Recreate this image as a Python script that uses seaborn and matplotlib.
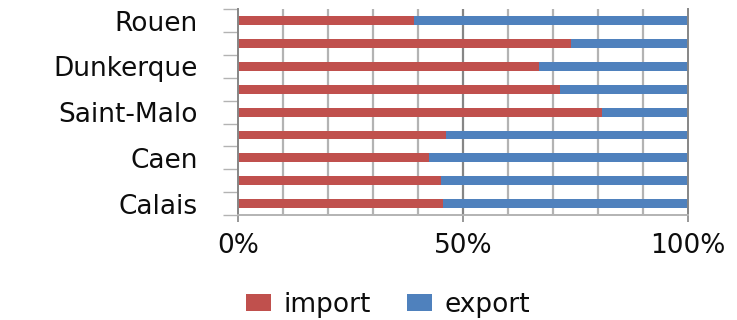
import numpy as np
import pandas as pd
import seaborn as sns
import matplotlib.pyplot as plt
from matplotlib.patches import Patch
from matplotlib.ticker import FixedLocator

# Shares of port traffic (percent), top to bottom
ports = ["Rouen", "", "Dunkerque", "", "Saint-Malo", "", "Caen", "", "Calais"]
import_share = [39.1, 74.0, 66.9, 71.5, 80.8, 46.2, 42.4, 45.1, 45.6]
export_share = [60.9, 26.0, 33.1, 28.5, 19.2, 53.8, 57.6, 54.9, 54.4]
x_ticks = [0, 50, 100]
x_tick_labels = ["0%", "50%", "100%"]
series_names = ["import", "export"]

RED = "#C0504D"
BLUE = "#4F81BD"
MAJOR_GREY = "#868686"
MINOR_GREY = "#B3B3B3"
TEXT = "#0D0D0D"

sns.set_theme(style="white")
plt.rcParams["font.family"] = ["DejaVu Sans"]

df = pd.DataFrame({
    "pos": np.arange(len(ports)),
    "import": import_share,
    "export": export_share,
})
df["total"] = df["import"] + df["export"]

fig = plt.figure(figsize=(7.37, 3.2), dpi=100)
ax = fig.add_axes([238 / 737, 1 - 215 / 320, 450 / 737, (215 - 9.3) / 320])

# stacked horizontal bars: full length in blue, import share drawn over it
sns.barplot(data=df, x="total", y="pos", orient="y", native_scale=True,
            width=0.39, color=BLUE, saturation=1, errorbar=None, ax=ax,
            linewidth=0)
sns.barplot(data=df, x="import", y="pos", orient="y", native_scale=True,
            width=0.39, color=RED, saturation=1, errorbar=None, ax=ax,
            linewidth=0)

ax.set_xlim(0, 100)
ax.set_ylim(len(ports) - 0.5, -0.5)
ax.set_xlabel("")
ax.set_ylabel("")

# vertical gridlines every 10%, darker at the labelled ticks
for v in range(10, 100, 10):
    ax.axvline(v, color=MAJOR_GREY if v == 50 else MINOR_GREY,
               lw=1.6, zorder=0)
ax.set_axisbelow(True)

ax.spines["top"].set_visible(False)
for side in ["left", "right", "bottom"]:
    ax.spines[side].set_visible(True)
    ax.spines[side].set_color(MAJOR_GREY)
    ax.spines[side].set_linewidth(1.4)
ax.spines["bottom"].set_color(MINOR_GREY)

ax.xaxis.set_major_locator(FixedLocator(x_ticks))
ax.set_xticklabels(x_tick_labels)
ax.tick_params(axis="x", which="major", length=5, width=1.2,
               color=MAJOR_GREY, labelsize=19, pad=8, bottom=True,
               labelcolor=TEXT)

ax.yaxis.set_major_locator(FixedLocator(df["pos"].tolist()))
ax.set_yticklabels(ports)
ax.yaxis.set_minor_locator(FixedLocator(np.arange(len(ports) + 1) - 0.5))
ax.tick_params(axis="y", which="major", length=0, labelsize=19, pad=29,
               left=True, labelcolor=TEXT)
ax.tick_params(axis="y", which="minor", length=11, width=1.0,
               color=MINOR_GREY, left=True)

handles = [Patch(facecolor=RED, edgecolor="none"),
           Patch(facecolor=BLUE, edgecolor="none")]
fig.legend(handles, series_names, loc="center", ncol=2,
           bbox_to_anchor=(388 / 737, 1 - 305 / 320), frameon=False,
           fontsize=19, handlelength=0.95, handleheight=0.6,
           handletextpad=0.45, columnspacing=1.4, labelcolor=TEXT)

fig.savefig("out.png", dpi=100)
